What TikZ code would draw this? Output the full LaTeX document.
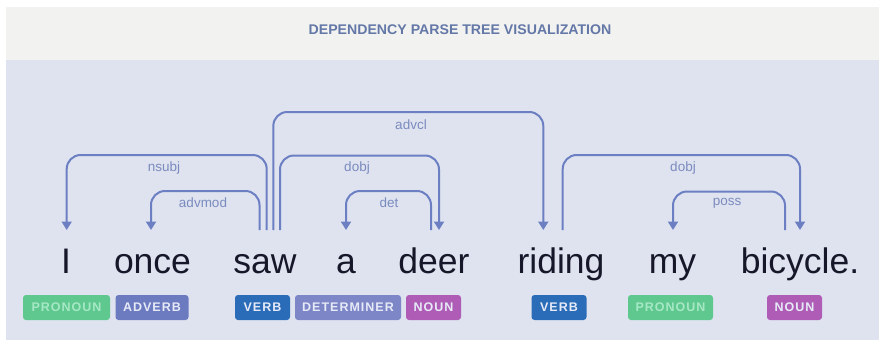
\documentclass[tikz,border=0pt]{standalone}
\usepackage{fontspec}
\setmainfont{Liberation Sans}
\newfontfamily\tagfont[LetterSpace=8]{Liberation Sans}
\usetikzlibrary{arrows.meta}
\definecolor{headbg}{HTML}{F2F2F0}
\definecolor{bodybg}{HTML}{DFE3F0}
\definecolor{arcc}{HTML}{6B7FC2}
\definecolor{labc}{HTML}{7A8BBE}
\definecolor{wordc}{HTML}{16182A}
\definecolor{titlec}{HTML}{6478A8}
\definecolor{pronf}{HTML}{5FC88E}
\definecolor{pront}{HTML}{A6E8C6}
\definecolor{advf}{HTML}{6C7AC0}
\definecolor{verbf}{HTML}{2B6CB8}
\definecolor{detf}{HTML}{7D86C6}
\definecolor{nounf}{HTML}{AE5CB6}
\definecolor{lightt}{HTML}{E6EAF7}
\tikzset{
  word/.style={anchor=base, inner sep=0pt, text=wordc, font=\fontsize{35.5}{40}\selectfont},
  arc/.style={draw=arcc, line width=2pt, rounded corners=14pt, -{Triangle[width=10pt,length=8.5pt]}},
  lab/.style={text=labc, font=\fontsize{13.5}{15}\selectfont, inner sep=0pt},
  tagbox/.style={rounded corners=3pt, minimum height=25pt, inner sep=0pt, font=\tagfont\bfseries\fontsize{12.5}{14}\selectfont},
}
\begin{document}
\begin{tikzpicture}[x=1pt,y=-1pt]
\useasboundingbox (0,0) rectangle (880,343);
\fill[white] (0,0) rectangle (880,343);
\fill[headbg] (6,7) rectangle (879,60);
\fill[bodybg] (6,60) rectangle (879,340);
\node[text=titlec, font=\bfseries\fontsize{14}{16}\selectfont, inner sep=0pt] (title) at (460,30) {\scalebox{1.01}[1]{DEPENDENCY PARSE TREE VISUALIZATION}};

% words
\node[word] (w1) at (66,273) {I};
\node[word] (w2) at (152.5,273) {once};
\node[word] (w3) at (265,273) {saw};
\node[word] (w4) at (346,273) {a};
\node[word] (w5) at (434,273) {deer};
\node[word] (w6) at (561,273) {riding};
\node[word] (w7) at (672.5,273) {my};
\node[word] (w8) at (800,273) {bicycle.};

% arc end points
\coordinate (s-nsubj) at (266.7,230);
\coordinate (e-nsubj) at (66.7,230);
\coordinate (s-advmod) at (259.5,230);
\coordinate (e-advmod) at (151,230);
\coordinate (s-advcl) at (273.3,230);
\coordinate (e-advcl) at (543.3,230);
\coordinate (s-dobj) at (280,230);
\coordinate (e-dobj) at (439,230);
\coordinate (s-det) at (431,230);
\coordinate (e-det) at (346,230);
\coordinate (s-dobj2) at (562.7,230);
\coordinate (e-dobj2) at (800,230);
\coordinate (s-poss) at (785,230);
\coordinate (e-poss) at (673,230);

\draw[arc] (s-nsubj) -- ++(0,-75) -| (e-nsubj);
\draw[arc] (s-advmod) -- ++(0,-39) -| (e-advmod);
\draw[arc] (s-advcl) -- ++(0,-118) -| (e-advcl);
\draw[arc] (s-dobj) -- ++(0,-74.5) -| (e-dobj);
\draw[arc] (s-det) -- ++(0,-39) -| (e-det);
\draw[arc] (s-dobj2) -- ++(0,-75) -| (e-dobj2);
\draw[arc] (s-poss) -- ++(0,-38.5) -| (e-poss);

\node[lab] (l-nsubj) at (164,168) {nsubj};
\node[lab] (l-advmod) at (203,203) {advmod};
\node[lab] (l-advcl) at (411,125) {advcl};
\node[lab] (l-dobj) at (357,168) {dobj};
\node[lab] (l-det) at (389,203) {det};
\node[lab] (l-dobj2) at (683,168) {dobj};
\node[lab] (l-poss) at (727,203) {poss};

% tags
\node[tagbox, fill=pronf, text=pront, minimum width=87pt] (t1) at (66.5,307.5) {PRONOUN};
\node[tagbox, fill=advf, text=lightt, minimum width=73pt] (t2) at (152,307.5) {ADVERB};
\node[tagbox, fill=verbf, text=lightt, minimum width=55pt] (t3) at (262.5,307.5) {VERB};
\node[tagbox, fill=detf, text=lightt, minimum width=106pt] (t4) at (348,307.5) {DETERMINER};
\node[tagbox, fill=nounf, text=lightt, minimum width=55pt] (t5) at (433.5,307.5) {NOUN};
\node[tagbox, fill=verbf, text=lightt, minimum width=55pt] (t6) at (559,307.5) {VERB};
\node[tagbox, fill=pronf, text=pront, minimum width=85pt] (t7) at (670.5,307.5) {PRONOUN};
\node[tagbox, fill=nounf, text=lightt, minimum width=55pt] (t8) at (794.5,307.5) {NOUN};
\end{tikzpicture}
\end{document}
